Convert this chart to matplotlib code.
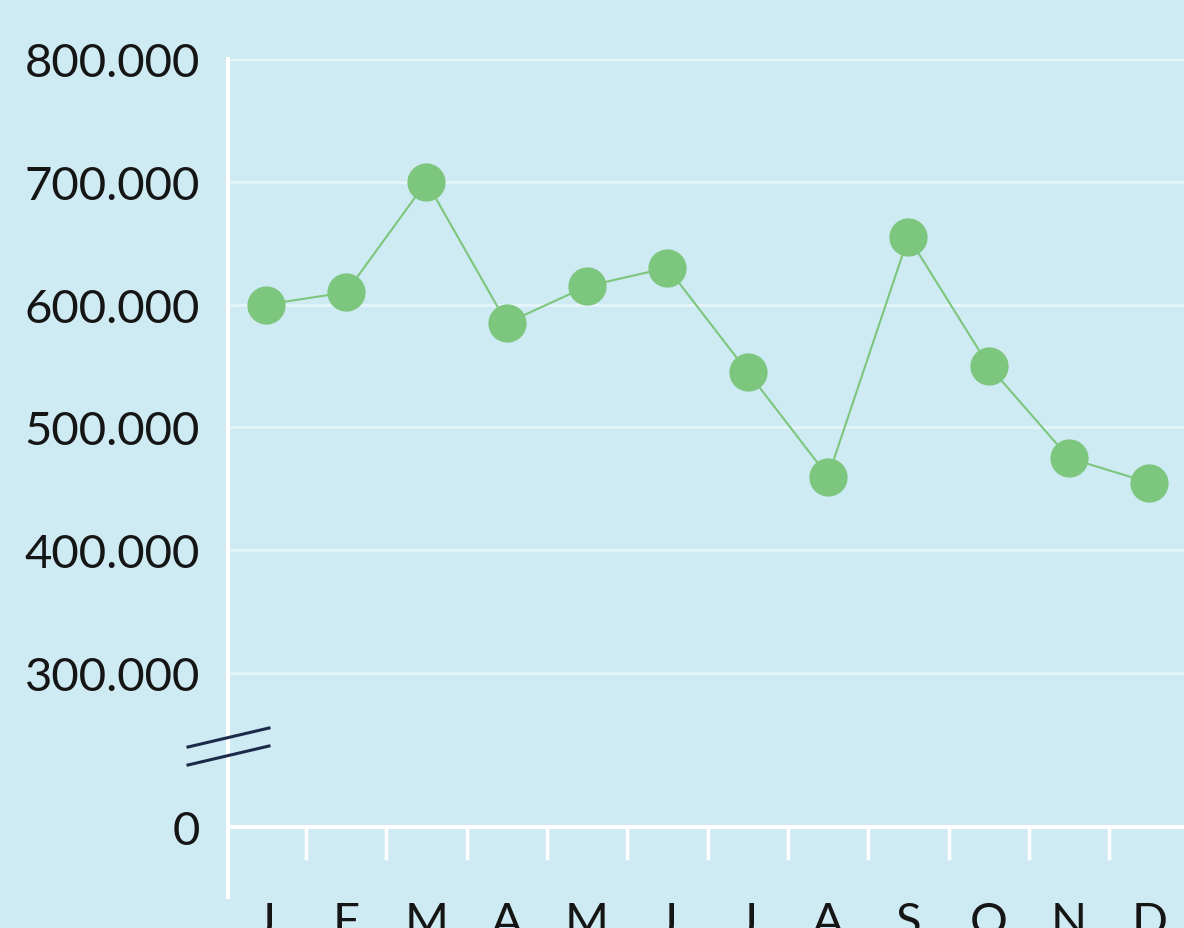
import numpy as np
import matplotlib
matplotlib.use("Agg")
import matplotlib.pyplot as plt
from matplotlib.lines import Line2D

# data
months = ["J", "F", "M", "A", "M", "J", "J", "A", "S", "O", "N", "D"]
visits = [600000, 610000, 700000, 585000, 615000, 630000,
          545000, 460000, 655000, 550000, 475000, 455000]
ytick_vals = [300000, 400000, 500000, 600000, 700000, 800000]
ytick_labels = ["300.000", "400.000", "500.000", "600.000", "700.000", "800.000"]
zero_pos = 175000   # where the "0" sits after the axis break

bg = "#ceeaf2"
green = "#7dc67d"
W, H = 1184, 929

plt.rcParams["font.family"] = ["Lato", "DejaVu Sans"]

fig = plt.figure(figsize=(W / 100, H / 100), dpi=100, facecolor=bg)
# axes: left edge at x=228px, top at y=60px, bottom at y=898px
ax = fig.add_axes([228 / W, (H - 898) / H, (W - 228) / W, (898 - 60) / H])
ax.set_facecolor(bg)

x = np.arange(len(months))
ax.set_xlim(-0.47, 11.43)
ax.set_ylim(117600, 800000)

# grid lines
for v in ytick_vals:
    ax.axhline(v, color="#e4f4f8", lw=2.2, zorder=1)
# zero line
ax.axhline(zero_pos, color="white", lw=3, zorder=2)
# tick marks between months, hanging below the zero line
tick_len = (860 - 827) / (898 - 60) * (800000 - 117600)
ax.vlines(x[:-1] + 0.5, zero_pos - tick_len, zero_pos, color="white", lw=2.5, zorder=2)

ax.plot(x, visits, color=green, lw=1.5, marker="o", ms=26.5, mec=green, mfc=green,
        zorder=3, clip_on=False)

for s in ["top", "right", "bottom"]:
    ax.spines[s].set_visible(False)
ax.spines["left"].set_color("white")
ax.spines["left"].set_linewidth(3)

ax.set_yticks([zero_pos] + ytick_vals)
ax.set_yticklabels(["0"] + ytick_labels)
ax.tick_params(axis="y", length=0, pad=20, labelsize=34, labelcolor="#151515")
ax.set_xticks([])

for xi, m in zip(x, months):
    ax.text(xi, -0.005, m, transform=ax.get_xaxis_transform(), ha="center", va="top",
            fontsize=34, color="#151515", clip_on=False)

# axis break marks
def px(xp, yp):
    return xp / W, (H - yp) / H

for (x0, y0, x1, y1) in [(188, 748, 269, 729), (188, 766, 269, 747)]:
    a, b = px(x0, y0)
    c, d = px(x1, y1)
    fig.add_artist(Line2D([a, c], [b, d], color="#1c2a4a", lw=2.2, transform=fig.transFigure))

fig.savefig("out.png", dpi=100, facecolor=bg)
